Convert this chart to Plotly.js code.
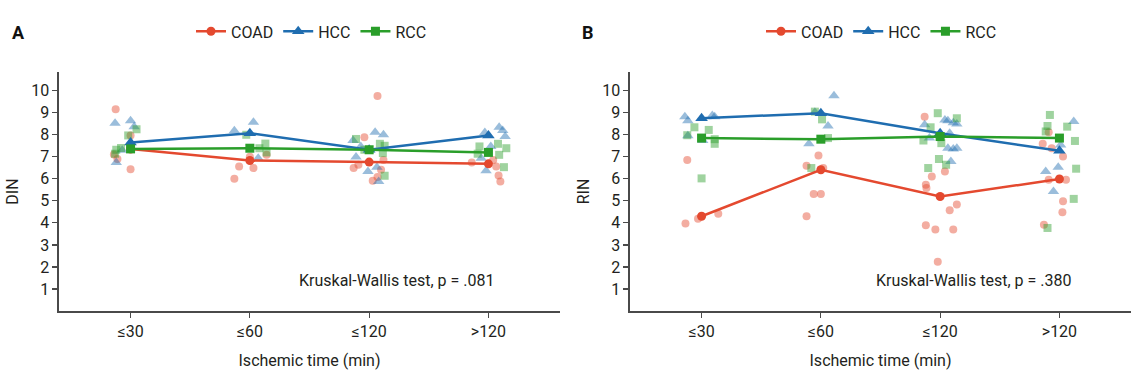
<!DOCTYPE html>
<html>
<head>
<meta charset="utf-8">
<script src="https://cdn.plot.ly/plotly-3.0.1.min.js"></script>
<style>html,body{margin:0;padding:0;background:#fff}#chart{width:1144px;height:381px}</style>
</head>
<body>
<div id="chart"></div>
<script>
// ---- data ----
const categories = ["≤30", "≤60", "≤120", ">120"];
const catPos = [0, 1, 2, 3];
const groups = ["COAD", "HCC", "RCC"];

// Panel A: DIN (individual samples; x = category index incl. jitter)
const dinCoadX = [-0.125, 0.0, 0.0, -0.11, -0.14, 0.91, 0.87, 1.03, 1.14, 1.0, 2.07, 1.96, 1.87, 2.03, 2.07, 2.1, 1.91, 2.12, 2.86, 3.04, 3.065, 3.085, 3.1];
const dinCoadY = [9.16, 7.97, 6.44, 6.9, 7.1, 6.56, 6.0, 6.49, 7.09, 7.0, 9.76, 7.89, 6.49, 5.91, 6.08, 6.41, 6.64, 6.86, 6.74, 6.86, 6.56, 6.15, 5.88];
const dinHccX = [-0.13, 0.0, 0.03, -0.12, -0.07, 0.87, 1.03, 1.07, 1.865, 2.05, 2.12, 1.93, 1.89, 1.99, 2.08, 2.065, 2.97, 3.09, 3.12, 3.14, 2.98, 2.94, 3.02];
const dinHccY = [8.52, 8.64, 8.37, 6.74, 7.3, 8.18, 8.57, 6.94, 7.74, 8.12, 8.0, 7.47, 6.99, 6.33, 5.88, 6.53, 8.1, 8.34, 8.19, 7.92, 6.37, 6.94, 7.47];
const dinRccX = [0.05, -0.02, -0.12, -0.13, -0.08, 0.97, 1.13, 1.08, 1.14, 1.89, 2.09, 2.13, 2.115, 2.13, 1.96, 2.91, 3.15, 3.08, 3.09, 3.13, 2.925];
const dinRccY = [8.25, 7.97, 7.32, 7.14, 7.4, 8.0, 7.6, 7.39, 7.2, 7.81, 7.59, 7.5, 7.17, 6.14, 7.32, 7.14, 7.39, 7.59, 7.09, 6.53, 7.47];
const dinCoadMean = [7.35, 6.83, 6.76, 6.68];
const dinHccMean = [7.65, 8.07, 7.32, 7.97];
const dinRccMean = [7.36, 7.39, 7.32, 7.2];

// Panel B: RIN
const rinCoadX = [-0.12, -0.135, -0.03, 0.14, 0.98, 0.88, 1.02, 0.94, 1.0, 0.88, 1.87, 1.93, 2.04, 1.88, 1.885, 2.08, 2.14, 1.88, 1.96, 2.11, 1.98, 2.91, 2.86, 2.935, 3.03, 2.91, 3.055, 3.03, 3.025, 2.87];
const rinCoadY = [6.86, 3.97, 4.19, 4.41, 7.06, 6.59, 6.49, 5.31, 5.31, 4.3, 8.82, 6.11, 6.33, 5.73, 5.58, 4.57, 4.83, 3.89, 3.7, 3.7, 2.24, 8.12, 7.59, 7.39, 7.01, 5.96, 5.96, 4.98, 4.48, 3.92];
const rinHccX = [-0.14, -0.115, 0.09, 0.11, -0.115, 0.01, 1.11, 0.95, 1.06, 0.9, 1.87, 2.04, 2.065, 2.11, 2.14, 1.91, 2.065, 2.11, 2.14, 2.09, 2.08, 3.12, 3.01, 2.99, 2.885, 2.95];
const rinHccY = [8.82, 8.64, 8.87, 8.82, 7.96, 7.74, 9.77, 9.02, 8.4, 7.59, 8.45, 8.67, 8.64, 8.55, 8.49, 7.85, 7.39, 7.35, 7.39, 6.79, 8.07, 8.6, 7.54, 6.53, 6.33, 5.43];
const rinRccX = [-0.06, 0.06, 0.11, 0.11, 0.0, -0.12, 0.95, 1.01, 1.06, 0.92, 1.98, 2.14, 1.92, 1.86, 2.01, 1.99, 1.9, 2.05, 2.92, 2.9, 3.065, 2.885, 3.13, 3.14, 3.12, 2.9];
const rinRccY = [8.34, 8.22, 7.8, 7.59, 6.02, 7.98, 9.05, 8.7, 7.85, 6.49, 8.98, 8.75, 8.34, 7.74, 7.62, 6.9, 6.49, 6.64, 8.9, 8.4, 8.37, 8.15, 7.72, 6.46, 5.09, 3.77];
const rinCoadMean = [4.3, 6.41, 5.2, 5.99];
const rinHccMean = [8.75, 8.98, 8.07, 7.27];
const rinRccMean = [7.85, 7.8, 7.92, 7.85];

// ---- style ----
const colors = {COAD: "#e4492f", HCC: "#1f6db0", RCC: "#2a9e2a"};
const symbols = {COAD: "circle", HCC: "triangle-up", RCC: "square"};
const ptSize = {COAD: 8, HCC: 10, RCC: 8};
const FONT = "Roboto, Arial, sans-serif";
const TXT = "#231f20";

function pts(x, y, g, xa, ya) {
  return {type: "scatter", mode: "markers", x: x, y: y, xaxis: xa, yaxis: ya,
    showlegend: false, hoverinfo: "skip",
    marker: {symbol: symbols[g], size: ptSize[g], color: colors[g], opacity: 0.45, line: {width: 0}}};
}
function means(y, g, xa, ya, lg) {
  return {type: "scatter", mode: "lines+markers", x: catPos, y: y, xaxis: xa, yaxis: ya,
    name: g, legend: lg, showlegend: true,
    line: {color: colors[g], width: 2.5},
    marker: {symbol: symbols[g], size: ptSize[g] + 1, color: colors[g]}};
}

const data = [
  pts(dinCoadX, dinCoadY, "COAD", "x", "y"),
  pts(dinHccX, dinHccY, "HCC", "x", "y"),
  pts(dinRccX, dinRccY, "RCC", "x", "y"),
  means(dinCoadMean, "COAD", "x", "y", "legend"),
  means(dinHccMean, "HCC", "x", "y", "legend"),
  means(dinRccMean, "RCC", "x", "y", "legend"),
  pts(rinCoadX, rinCoadY, "COAD", "x2", "y2"),
  pts(rinHccX, rinHccY, "HCC", "x2", "y2"),
  pts(rinRccX, rinRccY, "RCC", "x2", "y2"),
  means(rinCoadMean, "COAD", "x2", "y2", "legend2"),
  means(rinHccMean, "HCC", "x2", "y2", "legend2"),
  means(rinRccMean, "RCC", "x2", "y2", "legend2")
];

const W = 1144;
function xax(d0, d1, anchor) {
  return {domain: [d0 / W, d1 / W], range: [-0.6, 3.6], anchor: anchor,
    tickvals: catPos, ticktext: categories, showgrid: false, zeroline: false,
    showline: true, linecolor: "#4a4a4a", linewidth: 1.6,
    ticks: "outside", ticklen: 5, tickwidth: 1.2, tickcolor: "#4a4a4a",
    tickfont: {family: FONT, size: 16, color: TXT},
    title: {text: "Ischemic time (min)", font: {family: FONT, size: 16, color: TXT}, standoff: 15}};
}
function yax(title, anchor) {
  return {domain: [0, 1], range: [0, 10.85], anchor: anchor,
    tickvals: [1,2,3,4,5,6,7,8,9,10], showgrid: false, zeroline: false,
    showline: true, linecolor: "#4a4a4a", linewidth: 1.6,
    ticks: "outside", ticklen: 5, tickwidth: 1.2, tickcolor: "#4a4a4a",
    tickfont: {family: FONT, size: 16, color: TXT},
    title: {text: title, font: {family: FONT, size: 16, color: TXT}, standoff: 8}};
}
function leg(xpx) {
  return {orientation: "h", x: xpx / W, xanchor: "left", y: 1.17, yanchor: "middle",
    font: {family: FONT, size: 16, color: TXT}, bgcolor: "rgba(0,0,0,0)", itemwidth: 30, tracegroupgap: 0};
}

const layout = {
  width: 1144, height: 381,
  margin: {l: 0, r: 0, t: 72, b: 70},
  paper_bgcolor: "#fff", plot_bgcolor: "#fff",
  font: {family: FONT, color: TXT},
  xaxis: xax(59, 560, "y"),
  yaxis: yax("DIN", "x"),
  xaxis2: xax(630, 1131, "y2"),
  yaxis2: yax("RIN", "x2"),
  legend: leg(191),
  legend2: leg(761),
  annotations: [
    {text: "<b>A</b>", xref: "paper", yref: "paper", x: 18 / W, y: 1.165, xanchor: "center", yanchor: "middle", showarrow: false, font: {family: FONT, size: 18, color: "#111"}},
    {text: "<b>B</b>", xref: "paper", yref: "paper", x: 588 / W, y: 1.165, xanchor: "center", yanchor: "middle", showarrow: false, font: {family: FONT, size: 18, color: "#111"}},
    {text: "Kruskal-Wallis test, p = .081", xref: "paper", yref: "paper", x: 396 / W, y: 0.128, xanchor: "center", yanchor: "middle", showarrow: false, font: {family: FONT, size: 16, color: TXT}},
    {text: "Kruskal-Wallis test, p = .380", xref: "paper", yref: "paper", x: 973 / W, y: 0.128, xanchor: "center", yanchor: "middle", showarrow: false, font: {family: FONT, size: 16, color: TXT}}
  ]
};

Plotly.newPlot("chart", data, layout, {displayModeBar: false, staticPlot: true});
</script>
</body>
</html>
